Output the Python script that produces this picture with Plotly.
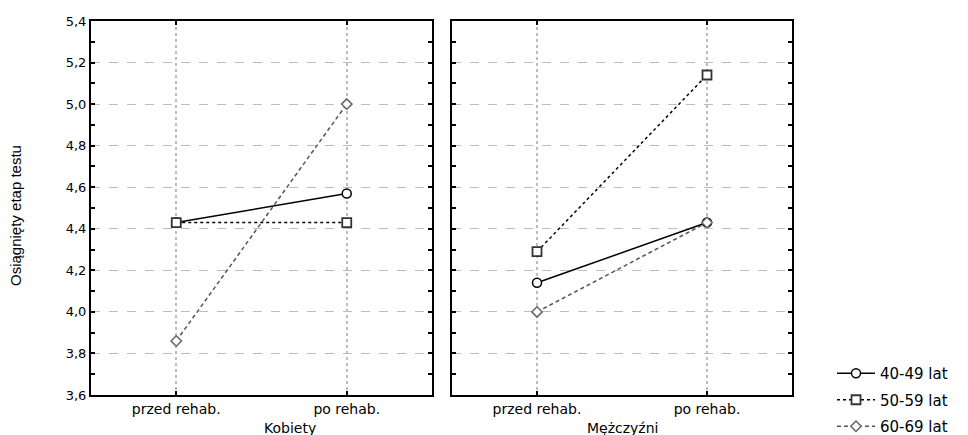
import plotly.graph_objects as go

categories = ["przed rehab.", "po rehab."]
panels = ["Kobiety", "Mężczyźni"]
series_names = ["40-49 lat", "50-59 lat", "60-69 lat"]
kobiety_40_49 = [4.43, 4.57]
kobiety_50_59 = [4.43, 4.43]
kobiety_60_69 = [3.86, 5.00]
mezczyzni_40_49 = [4.14, 4.43]
mezczyzni_50_59 = [4.29, 5.14]
mezczyzni_60_69 = [4.00, 4.43]
y_ticks = [3.6, 3.8, 4.0, 4.2, 4.4, 4.6, 4.8, 5.0, 5.2, 5.4]
y_tick_labels = ["3,6", "3,8", "4,0", "4,2", "4,4", "4,6", "4,8", "5,0", "5,2", "5,4"]

FONT = "DejaVu Sans, Arial, sans-serif"
OFF = 8  # page body margin in the browser
W, H = 968 - OFF, 435 - OFF
PT, PB = 21 - OFF, 395 - OFF  # plot area top / bottom in figure px
PH = PB - PT


def px(x):
    return (x - OFF) / W


def py(y):
    return (PB - (y - OFF)) / PH


styles = [
    dict(line=dict(color="#000000", width=1.5, dash="solid"),
         marker=dict(symbol="circle", size=9, color="white", line=dict(color="#000000", width=1.5))),
    dict(line=dict(color="#000000", width=1.5, dash="dot"),
         marker=dict(symbol="square", size=9, color="white", line=dict(color="#333333", width=1.8))),
    dict(line=dict(color="#555555", width=1.5, dash="4px,3px"),
         marker=dict(symbol="diamond", size=8, color="white", line=dict(color="#666666", width=1.5))),
]

fig = go.Figure()
data_k = [kobiety_40_49, kobiety_50_59, kobiety_60_69]
data_m = [mezczyzni_40_49, mezczyzni_50_59, mezczyzni_60_69]
for i, name in enumerate(series_names):
    fig.add_trace(go.Scatter(x=categories, y=data_k[i], mode="lines+markers", name=name,
                             legendgroup=name, showlegend=True, xaxis="x", yaxis="y",
                             **styles[i]))
    fig.add_trace(go.Scatter(x=categories, y=data_m[i], mode="lines+markers", name=name,
                             legendgroup=name, showlegend=False, xaxis="x2", yaxis="y2",
                             **styles[i]))

xcommon = dict(type="category", range=[-0.5, 1.5], showline=True, linecolor="black", linewidth=2,
               mirror="ticks", ticks="inside", ticklen=4, tickcolor="black", tickwidth=1.5,
               showgrid=True, gridcolor="#bdbdbd", griddash="dot", gridwidth=1.5,
               tickfont=dict(family=FONT, size=14, color="black"), zeroline=False, fixedrange=True,
               automargin=False)
ycommon = dict(range=[3.6, 5.4], tickvals=y_ticks, ticktext=y_tick_labels, showline=True,
               linecolor="black", linewidth=2, mirror="ticks", ticks="inside", ticklen=4,
               tickcolor="black", tickwidth=1.5, showgrid=True, gridcolor="#bdbdbd",
               griddash="dash", gridwidth=1, zeroline=False, automargin=False,
               minor=dict(dtick=0.1, ticks="inside", ticklen=4, tickcolor="black", tickwidth=1.5, showgrid=False),
               tickfont=dict(family=FONT, size=13, color="black"), domain=[0, 1])

fig.update_layout(
    width=W, height=H, paper_bgcolor="white", plot_bgcolor="white",
    margin=dict(l=0, r=0, t=PT, b=H - PB, autoexpand=False),
    xaxis=dict(domain=[px(91), px(432)], anchor="y", **xcommon),
    xaxis2=dict(domain=[px(452), px(792)], anchor="y2", **xcommon),
    yaxis=dict(anchor="x", showticklabels=True, **ycommon),
    yaxis2=dict(anchor="x2", showticklabels=False, **ycommon),
    showlegend=True,
    legend=dict(x=px(832), xanchor="left", y=py(357), yanchor="top", yref="paper",
                font=dict(family=FONT, size=15, color="black"), tracegroupgap=4,
                bgcolor="rgba(0,0,0,0)", itemwidth=38),
    annotations=[
        dict(text="Osiągnięty etap testu", x=px(15), y=py(216), xref="paper", yref="paper",
             textangle=-90, showarrow=False, xanchor="center", yanchor="middle",
             font=dict(family="Liberation Sans, Arial, sans-serif", size=15, color="black")),
        dict(text=panels[0], x=px((91 + 432) / 2), y=py(428), xref="paper", yref="paper",
             showarrow=False, yanchor="middle", font=dict(family=FONT, size=14, color="black")),
        dict(text=panels[1], x=px((452 + 792) / 2), y=py(428), xref="paper", yref="paper",
             showarrow=False, yanchor="middle", font=dict(family=FONT, size=14, color="black")),
    ],
)

fig.write_html("out.html")
